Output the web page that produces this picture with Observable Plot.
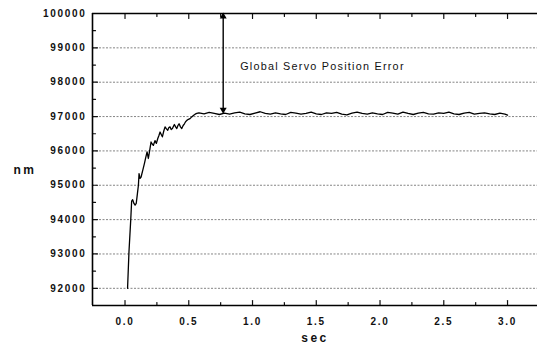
<!DOCTYPE html>
<html><head><meta charset="utf-8">
<script src="https://cdn.jsdelivr.net/npm/d3@7"></script>
<script src="https://cdn.jsdelivr.net/npm/@observablehq/plot@0.6"></script>
<style>
html,body{margin:0;padding:0;background:#fff;}
#chart svg{display:block;}
#chart g[aria-label="y-axis tick label"] text,
#chart g[aria-label="x-axis tick label"] text{letter-spacing:1.7px;}
</style></head><body><div id="chart"></div>
<script>
// rising part of the response
const timeRise = [0.020, 0.031, 0.045, 0.052, 0.060, 0.070, 0.079, 0.088, 0.097, 0.105,
  0.110, 0.118, 0.126, 0.140, 0.152, 0.162, 0.173, 0.183, 0.193, 0.204,
  0.213, 0.222, 0.235, 0.246, 0.257, 0.266, 0.275, 0.284, 0.293, 0.304,
  0.314, 0.325, 0.335, 0.344, 0.353, 0.362, 0.372, 0.380, 0.387, 0.397,
  0.406, 0.415, 0.424, 0.435, 0.445, 0.456, 0.466, 0.475, 0.485, 0.497,
  0.510, 0.523, 0.536, 0.550, 0.563, 0.580];
const nmRise = [92000, 93060, 94000, 94540, 94580, 94470, 94420, 94470, 94750, 95000,
  95340, 95200, 95240, 95450, 95630, 95800, 95970, 95780, 96000, 96260,
  96200, 96160, 96300, 96220, 96360, 96450, 96550, 96480, 96410, 96580,
  96700, 96640, 96600, 96680, 96700, 96620, 96650, 96720, 96770, 96700,
  96650, 96740, 96790, 96700, 96650, 96740, 96790, 96850, 96890, 96920,
  96940, 96990, 97030, 97070, 97090, 97110];
// holding part
const timeHold = [0.62, 0.66, 0.70, 0.74, 0.78, 0.82, 0.86, 0.90, 0.94, 0.98,
  1.02, 1.06, 1.10, 1.14, 1.18, 1.22, 1.26, 1.30, 1.34, 1.38,
  1.42, 1.46, 1.50, 1.54, 1.58, 1.62, 1.66, 1.70, 1.74, 1.78,
  1.82, 1.86, 1.90, 1.94, 1.98, 2.02, 2.06, 2.10, 2.14, 2.18,
  2.22, 2.26, 2.30, 2.34, 2.38, 2.42, 2.46, 2.50, 2.54, 2.58,
  2.62, 2.66, 2.70, 2.74, 2.78, 2.82, 2.86, 2.90, 2.94, 2.98, 3.00];
const nmHold = [97080, 97120, 97090, 97060, 97100, 97070, 97110, 97130, 97080, 97060,
  97100, 97140, 97090, 97070, 97110, 97080, 97060, 97120, 97100, 97070,
  97090, 97130, 97080, 97060, 97110, 97090, 97120, 97070, 97050, 97100,
  97130, 97090, 97070, 97110, 97080, 97060, 97120, 97100, 97070, 97130,
  97090, 97060, 97100, 97120, 97080, 97070, 97110, 97090, 97130, 97080,
  97060, 97100, 97120, 97070, 97090, 97110, 97080, 97060, 97100, 97070, 97040];

const xMajorTicks = [0, 0.5, 1, 1.5, 2, 2.5, 3];
const xMinorTicks = [0.25, 0.75, 1.25, 1.75, 2.25, 2.75];
const yMajorTicks = [92000, 93000, 94000, 95000, 96000, 97000, 98000, 99000, 100000];
const yMinorTicks = [92500, 93500, 94500, 95500, 96500, 97500, 98500, 99500];
const gridLevels = [92000, 93000, 94000, 95000, 96000, 97000, 98000, 99000];
const xDomain = [-0.255, 3.235];
const yDomain = [91500, 100000];
const arrowTime = [0.77];
const arrowTop = 100000;
const arrowBottom = 97110;
const annotationText = ["Global Servo Position Error"];
const annotationTime = 0.903;
const annotationNm = 98460;
const xTitle = ["sec"];
const yTitle = ["nm"];

const timeSec = timeRise.concat(timeHold);
const positionNm = nmRise.concat(nmHold);
const series = timeSec.map((t, i) => ({t, nm: positionNm[i]}));

const stick = {draw(ctx, l) { ctx.moveTo(0, 0); ctx.lineTo(0, -l); }};
const tickStyle = {anchor: "start", shape: stick, stroke: "#111", strokeWidth: 1.2};

const chart = Plot.plot({
  width: 537, height: 350,
  marginLeft: 92, marginRight: 0, marginTop: 13, marginBottom: 45,
  x: {domain: xDomain},
  y: {domain: yDomain},
  style: {fontFamily: "'Liberation Sans', Arial, sans-serif", fontSize: "10px", background: "#fff", color: "#111"},
  marks: [
    Plot.ruleY(gridLevels, {stroke: "#333", strokeWidth: 0.8, strokeDasharray: "2,1.5", strokeOpacity: 0.75}),
    // inward ticks
    Plot.vector(xMajorTicks, {x: d => d, y: yDomain[0], length: 5, rotate: 0, ...tickStyle}),
    Plot.vector(xMinorTicks, {x: d => d, y: yDomain[0], length: 3, rotate: 0, ...tickStyle}),
    Plot.vector(xMajorTicks, {x: d => d, y: yDomain[1], length: 5, rotate: 180, ...tickStyle}),
    Plot.vector(xMinorTicks, {x: d => d, y: yDomain[1], length: 3, rotate: 180, ...tickStyle}),
    Plot.vector(yMajorTicks, {x: xDomain[0], y: d => d, length: 5, rotate: 90, ...tickStyle}),
    Plot.vector(yMinorTicks, {x: xDomain[0], y: d => d, length: 3, rotate: 90, ...tickStyle}),
    // axis lines
    Plot.ruleX([xDomain[0]], {stroke: "#000", strokeWidth: 1.6}),
    Plot.ruleY(yDomain, {stroke: "#000", strokeWidth: 1.6}),
    Plot.axisX(xMajorTicks, {tickSize: 0, tickPadding: 12, tickFormat: d3.format(".1f"), fontWeight: "bold", label: null}),
    Plot.axisY(yMajorTicks, {tickSize: 0, tickPadding: 6, tickFormat: d => String(d), fontWeight: "bold", label: null}),
    // data
    Plot.line(series, {x: "t", y: "nm", stroke: "#000", strokeWidth: 1.3, strokeLinejoin: "round"}),
    // annotation arrow
    Plot.ruleX(arrowTime, {y1: arrowTop, y2: arrowBottom, stroke: "#000", strokeWidth: 1.4}),
    Plot.dot(arrowTime, {x: d => d, y: arrowTop, symbol: "triangle", r: 2.6, fill: "#000", stroke: null, dy: 3}),
    Plot.dot(arrowTime, {x: d => d, y: arrowBottom, symbol: "triangle", r: 2.6, fill: "#000", stroke: null, rotate: 180, dy: -3}),
    Plot.text(annotationText, {x: annotationTime, y: annotationNm, text: d => d, textAnchor: "start", fontSize: 10.8, fill: "#111"}),
    // axis titles
    Plot.text(xTitle, {frameAnchor: "bottom", text: d => d, dy: 36, fontSize: 12, fontWeight: "bold", fill: "#111"}),
    Plot.text(yTitle, {frameAnchor: "left", text: d => d, dx: -79, dy: 11, fontSize: 12, fontWeight: "bold", fill: "#111"})
  ]
});
// letter spacing for the annotation and axis titles
d3.select(chart).selectAll("text")
  .filter(function () { return annotationText.includes(this.textContent); })
  .style("letter-spacing", "1.25px");
d3.select(chart).selectAll("text")
  .filter(function () { return xTitle.includes(this.textContent) || yTitle.includes(this.textContent); })
  .style("letter-spacing", "2.5px");
document.getElementById("chart").appendChild(chart);
</script>
</body></html>
